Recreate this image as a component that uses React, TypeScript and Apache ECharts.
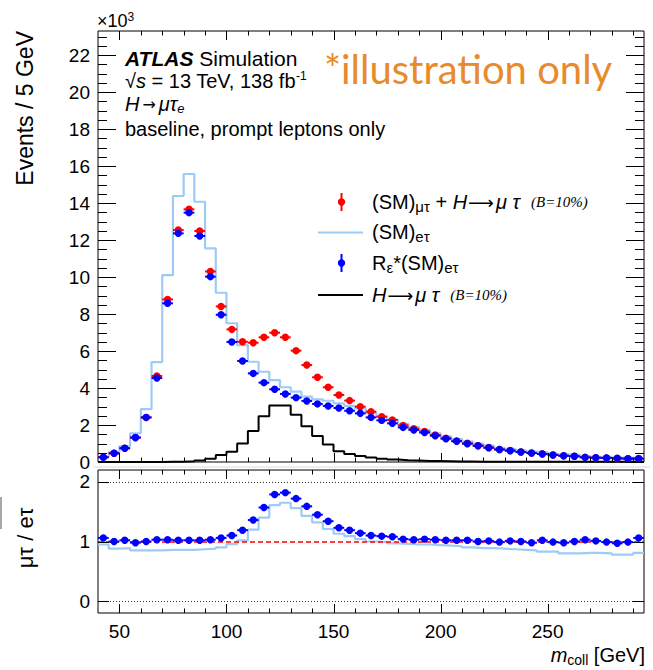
import React, { useEffect, useRef } from "react";
import * as echarts from "echarts";

// ---------------- data (events in units of 10^3, 5 GeV bins) ----------------
const binCenters = [
  42.5, 47.5, 52.5, 57.5, 62.5, 67.5, 72.5, 77.5, 82.5, 87.5,
  92.5, 97.5, 102.5, 107.5, 112.5, 117.5, 122.5, 127.5, 132.5, 137.5,
  142.5, 147.5, 152.5, 157.5, 162.5, 167.5, 172.5, 177.5, 182.5, 187.5,
  192.5, 197.5, 202.5, 207.5, 212.5, 217.5, 222.5, 227.5, 232.5, 237.5,
  242.5, 247.5, 252.5, 257.5, 262.5, 267.5, 272.5, 277.5, 282.5, 287.5,
  292.5,
];

// (SM)_mutau + H->mutau (B=10%)  -- red points
const smMuTauPlusH = [
  0.27, 0.47, 0.75, 1.31, 2.41, 4.65, 8.79, 12.54, 13.66, 12.49,
  10.30, 8.41, 7.17, 6.50, 6.45, 6.74, 6.99, 6.74, 6.02, 5.24,
  4.58, 4.04, 3.62, 3.32, 2.99, 2.72, 2.45, 2.27, 1.98, 1.80,
  1.65, 1.46, 1.29, 1.14, 1.01, 0.88, 0.78, 0.67, 0.62, 0.54,
  0.48, 0.44, 0.38, 0.33, 0.31, 0.26, 0.23, 0.22, 0.19, 0.18,
  0.19,
];

// R_eps * (SM)_etau  -- blue points
const rEpsSmETau = [
  0.25, 0.47, 0.74, 1.33, 2.41, 4.54, 8.58, 12.36, 13.48, 12.22,
  10.02, 7.96, 6.49, 5.46, 4.79, 4.29, 3.93, 3.68, 3.48, 3.30,
  3.14, 3.03, 2.92, 2.77, 2.63, 2.41, 2.25, 2.09, 1.87, 1.73,
  1.59, 1.42, 1.26, 1.12, 0.99, 0.88, 0.77, 0.68, 0.61, 0.54,
  0.49, 0.43, 0.38, 0.34, 0.31, 0.25, 0.23, 0.22, 0.20, 0.18,
  0.18,
];

// (SM)_etau  -- light blue histogram
const smETau = [
  0.28, 0.53, 0.86, 1.55, 2.86, 5.40, 10.10, 14.38, 15.57, 14.07,
  11.55, 9.15, 7.50, 6.32, 5.42, 4.88, 4.43, 4.04, 3.80, 3.53,
  3.39, 3.31, 3.17, 3.03, 2.90, 2.66, 2.47, 2.31, 2.06, 1.89,
  1.74, 1.55, 1.39, 1.24, 1.12, 0.99, 0.88, 0.76, 0.71, 0.63,
  0.56, 0.53, 0.46, 0.41, 0.39, 0.32, 0.28, 0.28, 0.24, 0.23,
  0.23,
];

// H -> mutau (B=10%)  -- black histogram
const hMuTau = [
  0, 0, 0, 0, 0, 0, 0.01, 0.02, 0.04, 0.08,
  0.18, 0.38, 0.55, 1.0, 1.68, 2.47, 3.05, 3.05, 2.56, 1.93,
  1.40, 0.94, 0.58, 0.43, 0.32, 0.25, 0.18, 0.13, 0.10, 0.08,
  0.06, 0.05, 0.04, 0.03, 0.03, 0.02, 0.02, 0.02, 0.01, 0.01,
  0.01, 0.01, 0.01, 0.01, 0.01, 0.01, 0.01, 0.01, 0.01, 0.01,
  0.01,
];

// lower panel: mutau / etau ratio, blue points
const ratioPoints = [
  1.06, 1.00, 1.02, 0.98, 1.00, 1.03, 1.03, 1.02, 1.02, 1.02,
  1.03, 1.06, 1.10, 1.19, 1.36, 1.57, 1.79, 1.82, 1.72, 1.59,
  1.45, 1.34, 1.23, 1.19, 1.14, 1.10, 1.09, 1.08, 1.04, 1.03,
  1.04, 1.03, 1.02, 1.02, 1.02, 1.00, 1.01, 0.99, 1.01, 1.00,
  0.98, 1.02, 0.99, 0.98, 1.00, 1.03, 1.01, 0.99, 0.97, 0.99,
  1.06,
];

// lower panel: ratio w.r.t. uncorrected (SM)_etau, light blue histogram
const ratioSmETau = [
  0.95, 0.88, 0.89, 0.85, 0.85, 0.85, 0.86, 0.86, 0.86, 0.87,
  0.88, 0.90, 0.955, 1.02, 1.20, 1.40, 1.61, 1.65, 1.56, 1.43,
  1.32, 1.21, 1.13, 1.09, 1.04, 1.00, 0.99, 0.97, 0.96, 0.95,
  0.95, 0.94, 0.93, 0.92, 0.90, 0.89, 0.89, 0.88, 0.87, 0.86,
  0.85, 0.83, 0.83, 0.80, 0.80, 0.81, 0.81, 0.80, 0.78, 0.78,
  0.81,
];

// ticks / labels
const xMajorTicks = [50, 100, 150, 200, 250];
const xMinorTicks = [60, 70, 80, 90, 110, 120, 130, 140, 160, 170, 180, 190, 210, 220, 230, 240, 260, 270, 280, 290];
const yTopMajorTicks = [0, 2, 4, 6, 8, 10, 12, 14, 16, 18, 20, 22];
const yBottomMajorTicks = [0, 1, 2];
const ratioRefLines = [0, 1, 2];

const X_MIN = 40;
const X_MAX = 295;
const Y_TOP_MAX = 23.3;
const Y_BOT_MIN = -0.2;
const Y_BOT_MAX = 2.2;
const HALF_BIN = 2.5;

const FONT = "'Liberation Sans', Arial, Helvetica, sans-serif";
const SERIF = "'Liberation Serif', 'Times New Roman', serif";
const ARROW_FONT = "'DejaVu Sans', sans-serif";
const RED = "#ff0000";
const BLUE = "#0000ff";
const LIGHT = "#9ecbf5";

function stepData(values: number[]) {
  const out: number[][] = [];
  values.forEach((v, i) => {
    out.push([binCenters[i] - HALF_BIN, v]);
    out.push([binCenters[i] + HALF_BIN, v]);
  });
  return out;
}

function pointSeries(name: string, values: number[], color: string, idx: number, z: number) {
  return {
    type: "custom",
    name,
    xAxisIndex: idx,
    yAxisIndex: idx,
    z,
    silent: true,
    data: binCenters.map((c, i) => [c, values[i]]),
    renderItem: (_params: any, api: any) => {
      const x = api.value(0);
      const y = api.value(1);
      const p = api.coord([x, y]);
      const a = api.coord([x - HALF_BIN, y]);
      const b = api.coord([x + HALF_BIN, y]);
      return {
        type: "group",
        children: [
          { type: "line", shape: { x1: a[0], y1: p[1], x2: b[0], y2: p[1] }, style: { stroke: color, lineWidth: 2 } },
          { type: "circle", shape: { cx: p[0], cy: p[1], r: 3.7 }, style: { fill: color } },
        ],
      };
    },
  };
}

function tickSeries(
  idx: number,
  yMin: number,
  xMaj: number, xMin: number,
  yTicks: number[], yMaj: number, yMinorStep: number, yMinLen: number, yMaxVal: number,
) {
  const data: number[][] = [];
  xMajorTicks.forEach((v) => data.push([v, xMaj, 0]));
  xMinorTicks.forEach((v) => data.push([v, xMin, 0]));
  yTicks.forEach((v) => data.push([v, yMaj, 1]));
  if (yMinorStep > 0) {
    for (let v = yTicks[0]; v <= yMaxVal + 1e-9; v += yMinorStep) {
      const r = Math.round(v * 1000) / 1000;
      if (!yTicks.some((t) => Math.abs(t - r) < 1e-6)) data.push([r, yMinLen, 1]);
    }
  }
  return {
    type: "custom",
    xAxisIndex: idx,
    yAxisIndex: idx,
    z: 20,
    silent: true,
    data,
    renderItem: (params: any, api: any) => {
      const cs = params.coordSys;
      const v = api.value(0);
      const len = api.value(1);
      const t = api.value(2);
      const st = { stroke: "#000", lineWidth: 1 };
      if (t === 0) {
        const px = Math.round(api.coord([v, yMin])[0]) + 0.5;
        return {
          type: "group",
          children: [
            { type: "line", shape: { x1: px, y1: cs.y + cs.height, x2: px, y2: cs.y + cs.height - len }, style: st },
            { type: "line", shape: { x1: px, y1: cs.y, x2: px, y2: cs.y + len }, style: st },
          ],
        };
      }
      const py = Math.round(api.coord([X_MIN, v])[1]) + 0.5;
      return {
        type: "group",
        children: [
          { type: "line", shape: { x1: cs.x, y1: py, x2: cs.x + len, y2: py }, style: st },
          { type: "line", shape: { x1: cs.x + cs.width, y1: py, x2: cs.x + cs.width - len, y2: py }, style: st },
        ],
      };
    },
  };
}

const n = (size: number, extra: any = {}) => ({ fontSize: size, fontFamily: FONT, fill: "#000", color: "#000", ...extra });
const arrow = (size: number) => ({ fontSize: size, fontFamily: ARROW_FONT, fill: "#000", color: "#000", lineHeight: 24, padding: [0, 2, 0, 1] });

export default function App() {
  const ref = useRef<HTMLDivElement>(null);

  useEffect(() => {
    document.body.style.margin = "0";
    if (!ref.current) return;
    const chart = echarts.init(ref.current, undefined, { renderer: "svg" });

    const axisLabelStyle = { fontSize: 19, fontFamily: FONT, color: "#000" };

    const option: any = {
      animation: false,
      backgroundColor: "#fff",
      grid: [
        { left: 98, top: 31, width: 546, height: 431, show: true, borderColor: "#000", borderWidth: 1, backgroundColor: "transparent", containLabel: false, outerBoundsMode: "none" },
        { left: 98, top: 470, width: 546, height: 143, show: true, borderColor: "#000", borderWidth: 1, backgroundColor: "transparent", containLabel: false, outerBoundsMode: "none" },
      ],
      xAxis: [
        {
          gridIndex: 0, type: "value", min: X_MIN, max: X_MAX,
          axisLine: { show: false }, axisTick: { show: false }, axisLabel: { show: false }, splitLine: { show: false },
        },
        {
          gridIndex: 1, type: "value", min: X_MIN, max: X_MAX,
          axisLine: { show: false }, axisTick: { show: false }, splitLine: { show: false },
          axisLabel: { ...axisLabelStyle, customValues: xMajorTicks, margin: 9 },
        },
      ],
      yAxis: [
        {
          gridIndex: 0, type: "value", min: 0, max: Y_TOP_MAX,
          axisLine: { show: false }, axisTick: { show: false }, splitLine: { show: false },
          axisLabel: { ...axisLabelStyle, customValues: yTopMajorTicks, margin: 8 },
        },
        {
          gridIndex: 1, type: "value", min: Y_BOT_MIN, max: Y_BOT_MAX,
          axisLine: { show: false }, axisTick: { show: false }, splitLine: { show: false },
          axisLabel: { ...axisLabelStyle, customValues: yBottomMajorTicks, margin: 8 },
        },
      ],
      series: [
        {
          type: "line", name: "(SM)eτ", xAxisIndex: 0, yAxisIndex: 0, z: 2, silent: true,
          data: stepData(smETau), symbol: "none", showSymbol: false,
          lineStyle: { color: LIGHT, width: 2.2 },
        },
        {
          type: "line", name: "H→μτ (B=10%)", xAxisIndex: 0, yAxisIndex: 0, z: 3, silent: true,
          data: stepData(hMuTau), symbol: "none", showSymbol: false,
          lineStyle: { color: "#000", width: 2 },
        },
        pointSeries("(SM)μτ + H→μτ (B=10%)", smMuTauPlusH, RED, 0, 4),
        pointSeries("Rε*(SM)eτ", rEpsSmETau, BLUE, 0, 5),
        {
          type: "line", name: "ratio (SM)eτ", xAxisIndex: 1, yAxisIndex: 1, z: 3, silent: true,
          data: stepData(ratioSmETau), symbol: "none", showSymbol: false,
          lineStyle: { color: LIGHT, width: 2.2 },
          markLine: {
            silent: true, symbol: ["none", "none"], label: { show: false }, animation: false,
            data: ratioRefLines.map((v) =>
              v === 1
                ? { yAxis: v, lineStyle: { color: RED, type: [5, 3], width: 1.5 } }
                : { yAxis: v, lineStyle: { color: "#333", type: [1, 2], width: 1 } }
            ),
          },
        },
        pointSeries("ratio", ratioPoints, BLUE, 1, 5),
        tickSeries(0, 0, 9, 4.5, yTopMajorTicks, 18, 0.5, 9, Y_TOP_MAX),
        tickSeries(1, Y_BOT_MIN, 9, 4.5, yBottomMajorTicks, 11, 0, 0, Y_BOT_MAX),
      ],
      graphic: [
        // faint separators from the original cut-out
        { type: "line", silent: true, shape: { x1: 94, y1: 467, x2: 650, y2: 467 }, style: { stroke: "#e6e6e6", lineWidth: 1.5 } },
        { type: "rect", silent: true, shape: { x: 0, y: 497, width: 2, height: 32 }, style: { fill: "#a8a8a8" } },
        // x10^3
        {
          type: "text", x: 97, y: 21, silent: true,
          style: {
            text: "{a|×10}{p|3}", align: "left", verticalAlign: "middle",
            rich: { a: n(18, { lineHeight: 20 }), p: n(12, { lineHeight: 12, padding: [0, 0, 9, 0] }) },
          },
        },
        // y titles
        {
          type: "text", x: 25, y: 31, rotation: Math.PI / 2, silent: true,
          style: { text: "Events / 5 GeV", font: `23px ${FONT}`, fill: "#000", align: "right", verticalAlign: "middle" },
        },
        {
          type: "text", x: 25, y: 538, rotation: Math.PI / 2, silent: true,
          style: { text: "μτ / eτ", font: `22px ${FONT}`, fill: "#000", align: "center", verticalAlign: "middle" },
        },
        // x title
        {
          type: "text", x: 645, y: 655, silent: true,
          style: {
            text: "{i|m}{s|coll}{a| [GeV]}", align: "right", verticalAlign: "middle",
            rich: {
              i: n(20, { fontStyle: "italic", lineHeight: 24 }),
              a: n(20, { lineHeight: 24 }),
              s: n(14, { lineHeight: 14, padding: [9, 0, 0, 0] }),
            },
          },
        },
        // ATLAS label block
        {
          type: "text", x: 125, y: 58, silent: true,
          style: {
            text: "{b|ATLAS}{a| Simulation}", align: "left", verticalAlign: "middle",
            rich: { b: n(21, { fontStyle: "italic", fontWeight: "bold", lineHeight: 24 }), a: n(21, { lineHeight: 24 }) },
          },
        },
        {
          type: "text", x: 125, y: 81, silent: true,
          style: {
            text: "{a|√}{i|s}{a| = 13 TeV, 138 fb}{p|-1}", align: "left", verticalAlign: "middle",
            rich: {
              a: n(20, { lineHeight: 24 }),
              i: n(20, { fontStyle: "italic", lineHeight: 24 }),
              p: n(12, { lineHeight: 12, padding: [0, 0, 10, 0] }),
            },
          },
        },
        {
          type: "text", x: 125, y: 104, silent: true,
          style: {
            text: "{i|H}{r|→}{i|μτ}{s|e}", align: "left", verticalAlign: "middle",
            rich: {
              i: n(20, { fontStyle: "italic", lineHeight: 24 }),
              r: { ...arrow(16), padding: [0, 3, 0, 3] },
              s: n(13, { fontStyle: "italic", lineHeight: 13, padding: [9, 0, 0, 0] }),
            },
          },
        },
        {
          type: "text", x: 125, y: 129, silent: true,
          style: { text: "baseline, prompt leptons only", font: `20px ${FONT}`, fill: "#000", align: "left", verticalAlign: "middle" },
        },
        // illustration note
        {
          type: "text", x: 324, y: 69, silent: true,
          style: { text: "*illustration only", font: `40px Lato, 'Open Sans', sans-serif`, fill: "#e98a2b", align: "left", verticalAlign: "middle" },
        },
        // legend markers
        { type: "line", silent: true, shape: { x1: 341.5, y1: 193, x2: 341.5, y2: 211 }, style: { stroke: RED, lineWidth: 2 } },
        { type: "circle", silent: true, shape: { cx: 341.5, cy: 202, r: 3.7 }, style: { fill: RED } },
        { type: "line", silent: true, shape: { x1: 318, y1: 232.5, x2: 363, y2: 232.5 }, style: { stroke: LIGHT, lineWidth: 2.2 } },
        { type: "line", silent: true, shape: { x1: 341.5, y1: 254, x2: 341.5, y2: 272 }, style: { stroke: BLUE, lineWidth: 2 } },
        { type: "circle", silent: true, shape: { cx: 341.5, cy: 263, r: 3.7 }, style: { fill: BLUE } },
        { type: "line", silent: true, shape: { x1: 318, y1: 295, x2: 363, y2: 295 }, style: { stroke: "#000", lineWidth: 2 } },
        // legend texts
        {
          type: "text", x: 372, y: 202, silent: true,
          style: {
            text: "{a|(SM)}{s|μτ}{a| + }{i|H}{r|⟶}{i|μ τ}{a|  }{b|(B=10%)}", align: "left", verticalAlign: "middle",
            rich: {
              a: n(20, { lineHeight: 24 }),
              i: n(20, { fontStyle: "italic", lineHeight: 24 }),
              r: arrow(18),
              s: n(15, { lineHeight: 15, padding: [9, 0, 0, 0] }),
              b: { fontSize: 15, fontFamily: SERIF, fontStyle: "italic", fill: "#000", color: "#000", lineHeight: 24 },
            },
          },
        },
        {
          type: "text", x: 372, y: 232, silent: true,
          style: {
            text: "{a|(SM)}{s|eτ}", align: "left", verticalAlign: "middle",
            rich: { a: n(20, { lineHeight: 24 }), s: n(15, { lineHeight: 15, padding: [9, 0, 0, 0] }) },
          },
        },
        {
          type: "text", x: 372, y: 263, silent: true,
          style: {
            text: "{a|R}{s|ε}{a|*(SM)}{s|eτ}", align: "left", verticalAlign: "middle",
            rich: { a: n(20, { lineHeight: 24 }), s: n(15, { lineHeight: 15, padding: [9, 0, 0, 0] }) },
          },
        },
        {
          type: "text", x: 372, y: 295, silent: true,
          style: {
            text: "{i|H}{r|⟶}{i|μ τ}{a|  }{b|(B=10%)}", align: "left", verticalAlign: "middle",
            rich: {
              a: n(20, { lineHeight: 24 }),
              i: n(20, { fontStyle: "italic", lineHeight: 24 }),
              r: arrow(18),
              b: { fontSize: 15, fontFamily: SERIF, fontStyle: "italic", fill: "#000", color: "#000", lineHeight: 24 },
            },
          },
        },
      ],
    };

    chart.setOption(option);
    return () => chart.dispose();
  }, []);

  return <div ref={ref} style={{ position: "absolute", left: 0, top: 0, width: 653, height: 670 }} />;
}
